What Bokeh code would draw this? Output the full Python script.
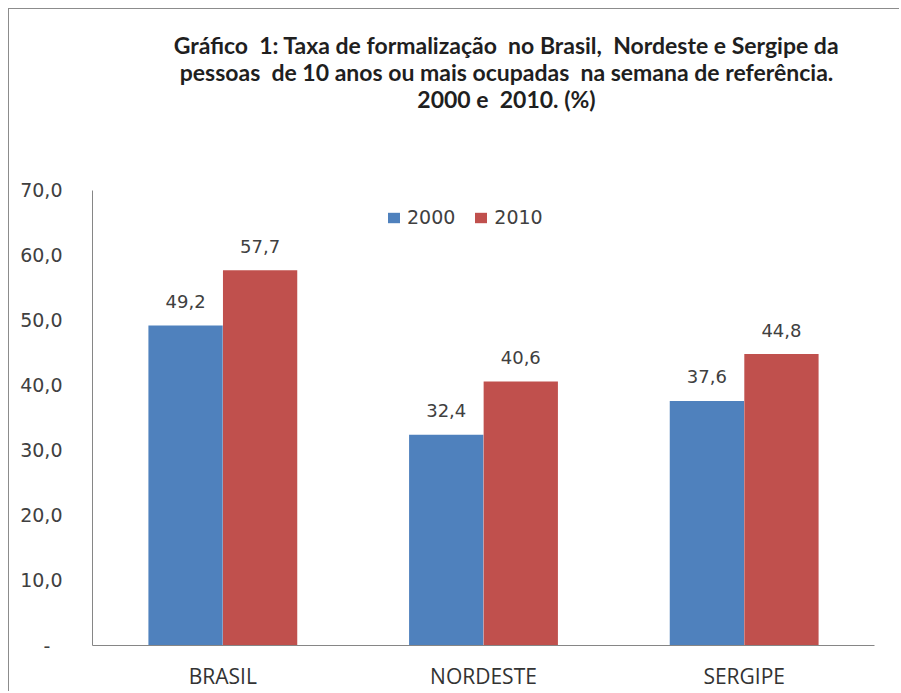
from bokeh.plotting import figure
from bokeh.models import ColumnDataSource, Label, FactorRange, Range1d
from bokeh.transform import dodge
from bokeh.embed import file_html
from bokeh.resources import INLINE
from bokeh.core.properties import value

# ---- data ----
categories = ["BRASIL", "NORDESTE", "SERGIPE"]
years = ["2000", "2010"]
values_2000 = [49.2, 32.4, 37.6]
values_2010 = [57.7, 40.6, 44.8]
y_ticks = [0, 10, 20, 30, 40, 50, 60, 70]
y_tick_labels = ["-\u00a0\u00a0", "10,0", "20,0", "30,0", "40,0", "50,0", "60,0", "70,0"]
y_axis_max = 70
title_lines = [
    "Gráfico  1: Taxa de formalização  no Brasil,  Nordeste e Sergipe da",
    "pessoas  de 10 anos ou mais ocupadas  na semana de referência.",
    "2000 e  2010. (%)",
]

BLUE = "#4F81BD"
RED = "#C0504D"
AXIS = "#868686"
TXT = "#404040"

# page geometry (page px): figure placed at (9, 9) after 8px margin + 1px border
ORG = 9
W, H = 891, 683
PLOT_LEFT, PLOT_RIGHT, PLOT_BOTTOM, PLOT_TOP70 = 92, 874, 646, 190
FL = PLOT_LEFT - ORG
FR = W - (PLOT_RIGHT - ORG)
FB = H - (PLOT_BOTTOM - ORG)
frame_h = PLOT_BOTTOM - ORG
px_per_unit = (PLOT_BOTTOM - PLOT_TOP70) / y_axis_max
y_top = frame_h / px_per_unit
cat_px = (PLOT_RIGHT - PLOT_LEFT) / len(categories)

def fmt(v):
    return f"{v:.1f}".replace(".", ",")

src = ColumnDataSource(dict(
    cat=categories,
    v2000=values_2000,
    v2010=values_2010,
    l2000=[fmt(v) for v in values_2000],
    l2010=[fmt(v) for v in values_2010],
))

p = figure(x_range=FactorRange(*categories, range_padding=0),
           y_range=Range1d(0, y_top),
           width=W, height=H, output_backend="svg", toolbar_location=None,
           min_border_left=FL, min_border_top=0,
           min_border_right=FR, min_border_bottom=FB)
p.styles = {"margin-left": "8px", "margin-top": "8px",
            "border-left": "1px solid #8c8c8c", "border-top": "1px solid #8c8c8c"}
p.outline_line_color = None
p.xgrid.grid_line_color = None
p.ygrid.grid_line_color = None
p.background_fill_color = "white"
p.border_fill_color = "white"

off = 0.143
bw = 0.285
p.vbar(x=dodge("cat", -off, range=p.x_range), top="v2000", width=bw, source=src,
       fill_color=BLUE, line_color=None, legend_label=years[0])
p.vbar(x=dodge("cat", off, range=p.x_range), top="v2010", width=bw, source=src,
       fill_color=RED, line_color=None, legend_label=years[1])

for col, lab, dx in (("v2000", "l2000", -off), ("v2010", "l2010", off)):
    p.text(x=dodge("cat", dx, range=p.x_range), y=col, text=lab, source=src,
           text_align="center", text_baseline="middle", y_offset=-24,
           text_font=value("DejaVu Sans"), text_font_size="18px", text_color=TXT)

# axes
p.yaxis.bounds = (0, y_axis_max)
p.yaxis.ticker = y_ticks
p.yaxis.major_label_overrides = {t: l for t, l in zip(y_ticks, y_tick_labels)}
p.yaxis.major_tick_line_color = None
p.yaxis.minor_tick_line_color = None
p.yaxis.axis_line_color = AXIS
p.yaxis.major_label_text_font = "DejaVu Sans"
p.yaxis.major_label_text_font_size = "19px"
p.yaxis.major_label_text_color = TXT
p.yaxis.major_label_standoff = 24

p.xaxis.major_tick_line_color = None
p.xaxis.minor_tick_line_color = None
p.xaxis.axis_line_color = AXIS
p.xaxis.major_label_text_font = "Open Sans"
p.xaxis.major_label_text_font_size = "21px"
p.xaxis.major_label_text_color = "#333333"
p.xaxis.major_label_standoff = 10

# legend
lg = p.legend[0]
lg.orientation = "horizontal"
lg.location = (294, PLOT_BOTTOM - 229)
lg.padding = 0
lg.margin = 0
lg.spacing = 18
lg.label_standoff = 6
lg.glyph_width = 15
lg.glyph_height = 13
lg.border_line_color = None
lg.background_fill_alpha = 0
lg.label_text_font = "DejaVu Sans"
lg.label_text_font_size = "19px"
lg.label_text_color = TXT

# title (three centred lines), positioned from page pixels
def px_to_x(px):
    return (px - PLOT_LEFT) / cat_px
def py_to_y(py):
    return (PLOT_BOTTOM - py) / px_per_unit

for line, py in zip(title_lines, [45, 72, 99]):
    p.add_layout(Label(x=px_to_x(506), y=py_to_y(py), text=line.replace("  ", " \u00a0"),
                       text_align="center", text_baseline="middle",
                       text_font="Lato", text_font_style="bold",
                       text_font_size="23px", text_color="#1f1f1f"))

open("out.html", "w").write(file_html(p, INLINE))
